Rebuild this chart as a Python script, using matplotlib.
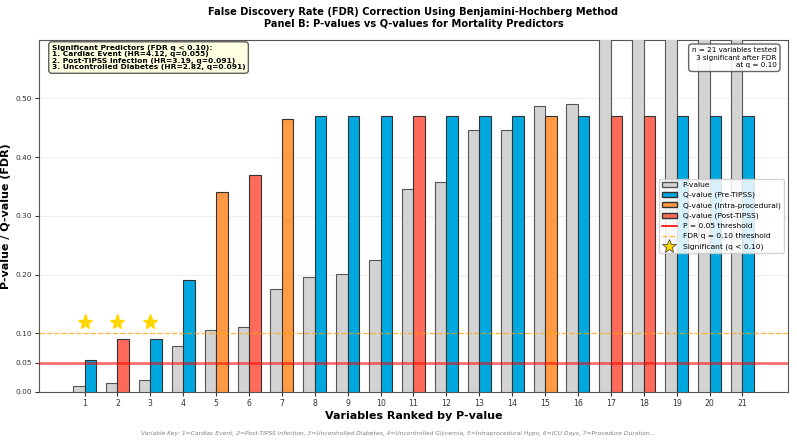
import matplotlib
matplotlib.use("Agg")
import matplotlib.pyplot as plt
import numpy as np
from matplotlib.patches import Patch
from matplotlib.lines import Line2D

ranks = list(range(1, 22))
p_values = [0.010, 0.015, 0.021, 0.078, 0.105, 0.110, 0.175, 0.196, 0.201, 0.225,
            0.345, 0.357, 0.446, 0.446, 0.487, 0.490, 0.62, 0.68, 0.74, 0.79, 0.85]
q_values = [0.055, 0.091, 0.091, 0.190, 0.341, 0.370, 0.465, 0.470, 0.470, 0.470,
            0.470, 0.470, 0.470, 0.470, 0.470, 0.470, 0.470, 0.470, 0.470, 0.470, 0.470]
phase = ["Pre", "Post", "Pre", "Pre", "Intra", "Post", "Intra", "Pre", "Pre", "Pre",
         "Post", "Pre", "Pre", "Pre", "Intra", "Pre", "Post", "Post", "Pre", "Pre", "Pre"]
significant = [1, 2, 3]

phase_colors = {"Pre": "#00A8E0", "Intra": "#FF9944", "Post": "#FF6B5B"}

fig = plt.figure(figsize=(7.97, 4.46), dpi=100)
ax = fig.add_axes([39/797, 1 - 392/446, (788-39)/797, (392-39.5)/446])

x = np.array(ranks, dtype=float)
w = 0.35
ax.bar(x - w/2, p_values, width=w, color="#D3D3D3", edgecolor="#555555", linewidth=0.8, zorder=3)
ax.bar(x + w/2, q_values, width=w, color=[phase_colors[p] for p in phase],
       edgecolor="#333333", linewidth=0.8, zorder=3)

ax.axhline(0.05, color="red", linewidth=2.0, alpha=0.55, zorder=4)
ax.axhline(0.10, color="orange", linestyle="--", linewidth=1.0, alpha=0.7, zorder=4)

for s in significant:
    ax.plot(s, 0.12, marker="*", markersize=11, color="gold", zorder=5, linestyle="none")

ax.set_ylim(0, 0.6)
ax.set_xlim(-0.385, 22.385)
ax.set_xticks(ranks)
ax.set_xticklabels([str(r) for r in ranks], fontsize=5.6)
ax.set_yticks([0, 0.05, 0.1, 0.2, 0.3, 0.4, 0.5])
ax.set_yticklabels(["0.00", "0.05", "0.10", "0.20", "0.30", "0.40", "0.50"], fontsize=5.3)
ax.tick_params(colors="#333333", length=3, pad=2)
ax.grid(axis="y", alpha=0.25, linewidth=0.6, zorder=0)
for sp in ax.spines.values():
    sp.set_color("#555555")

ax.set_xlabel("Variables Ranked by P-value", fontsize=8, fontweight="bold", labelpad=2)
ax.set_ylabel("P-value / Q-value (FDR)", fontsize=8, fontweight="bold", labelpad=3)
ax.set_title("False Discovery Rate (FDR) Correction Using Benjamini-Hochberg Method\n"
             "Panel B: P-values vs Q-values for Mortality Predictors",
             fontsize=7.1, fontweight="bold", pad=9)

handles = [
    Patch(facecolor="#D3D3D3", edgecolor="#555555", label="P-value"),
    Patch(facecolor=phase_colors["Pre"], edgecolor="#333333", label="Q-value (Pre-TIPSS)"),
    Patch(facecolor=phase_colors["Intra"], edgecolor="#333333", label="Q-value (Intra-procedural)"),
    Patch(facecolor=phase_colors["Post"], edgecolor="#333333", label="Q-value (Post-TIPSS)"),
    Line2D([0], [0], color="red", linewidth=1.2, label="P = 0.05 threshold"),
    Line2D([0], [0], color="orange", linestyle="--", linewidth=1.0, alpha=0.7, label="FDR q = 0.10 threshold"),
    Line2D([0], [0], marker="*", color="gold", markeredgecolor="#333333", markeredgewidth=0.5,
           markersize=10, linestyle="none", label="Significant (q < 0.10)"),
]
ax.legend(handles=handles, loc="center right", fontsize=5.4, framealpha=0.85,
          handlelength=2.0, borderpad=0.4, labelspacing=0.5, borderaxespad=0.6)

ax.text(0.017, 0.985, "Significant Predictors (FDR q < 0.10):\n1. Cardiac Event (HR=4.12, q=0.055)\n"
        "2. Post-TIPSS Infection (HR=3.19, q=0.091)\n3. Uncontrolled Diabetes (HR=2.82, q=0.091)",
        transform=ax.transAxes, fontsize=5.4, fontweight="bold", va="top", ha="left", linespacing=1.1,
        bbox=dict(boxstyle="round,pad=0.4", facecolor="#FFFFE0", edgecolor="#555555", alpha=0.95), zorder=6)

ax.text(0.985, 0.978, "n = 21 variables tested\n3 significant after FDR\nat q = 0.10",
        transform=ax.transAxes, fontsize=5.2, va="top", ha="right", multialignment="right", linespacing=1.3,
        bbox=dict(boxstyle="round,pad=0.45", facecolor="white", edgecolor="#555555", alpha=0.9), zorder=6)

fig.text(0.5, 0.029, "Variable Key: 1=Cardiac Event, 2=Post-TIPSS Infection, 3=Uncontrolled Diabetes, "
         "4=Uncontrolled Glycemia, 5=Intraprocedural Hypo, 6=ICU Days, 7=Procedure Duration...",
         fontsize=4.3, style="italic", color="gray", ha="center", va="center")

fig.savefig("out.png", dpi=100)
